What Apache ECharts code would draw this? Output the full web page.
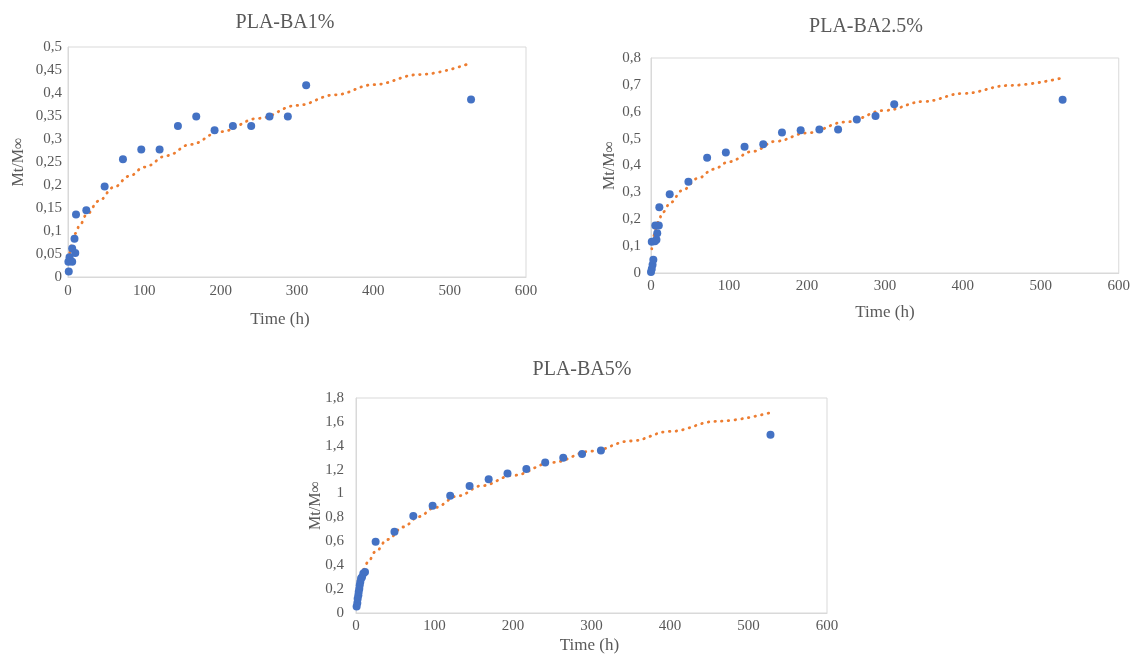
<!DOCTYPE html>
<html>
<head>
<meta charset="utf-8">
<script src="https://cdn.jsdelivr.net/npm/echarts@6/dist/echarts.min.js"></script>
<style>
html,body{margin:0;padding:0;background:#fff;}
#c{width:1133px;height:663px;}
</style>
</head>
<body>
<div id="c"></div>
<script>
// ---- Data ----
const titles = ['PLA-BA1%', 'PLA-BA2.5%', 'PLA-BA5%'];
const xName = 'Time (h)';
const yName = 'Mt/M\u221E';

// PLA-BA1%
const time1 = [1, 0.5, 2, 5.5, 5.5, 9.5, 8.5, 10.5, 24, 48, 72, 96, 120, 144, 168, 192, 216, 240, 264, 288, 312, 528];
const val1  = [0.012, 0.033, 0.043, 0.062, 0.033, 0.052, 0.083, 0.136, 0.145, 0.197, 0.256, 0.277, 0.277, 0.328, 0.349, 0.319, 0.328, 0.328, 0.349, 0.349, 0.417, 0.386];
const trendT1 = [1, 2, 3, 5, 7, 10, 15, 25, 40, 60, 80, 100, 130, 160, 200, 250, 300, 350, 400, 460, 522];
const trendV1 = [0.038, 0.05, 0.059, 0.072, 0.082, 0.095, 0.112, 0.137, 0.165, 0.195, 0.219, 0.239, 0.264, 0.288, 0.316, 0.345, 0.373, 0.396, 0.418, 0.44, 0.462];

// PLA-BA2.5%
const time2 = [0, 1, 2, 3, 1, 5, 7, 8, 5.5, 10, 10.7, 24, 48, 72, 96, 120, 144, 168, 192, 216, 240, 264, 288, 312, 528];
const val2  = [0.004, 0.015, 0.031, 0.049, 0.116, 0.118, 0.124, 0.148, 0.177, 0.177, 0.245, 0.293, 0.340, 0.429, 0.448, 0.470, 0.479, 0.523, 0.531, 0.534, 0.534, 0.571, 0.584, 0.628, 0.645];
const trendT2 = [1, 2, 3, 5, 7, 10, 15, 25, 40, 60, 80, 100, 130, 160, 200, 250, 300, 350, 400, 460, 528];
const trendV2 = [0.09, 0.113, 0.13, 0.155, 0.172, 0.198, 0.226, 0.262, 0.307, 0.352, 0.386, 0.414, 0.452, 0.49, 0.521, 0.562, 0.605, 0.638, 0.668, 0.698, 0.726];

// PLA-BA5%
const time3 = [0.8, 1.7, 2.1, 3, 3.4, 4.2, 4.7, 5.5, 6.4, 7.6, 9.3, 11.5, 25, 49, 73, 97.6, 120, 144.7, 169, 193, 217, 241, 264, 288, 312, 528];
const val3  = [0.055, 0.084, 0.12, 0.148, 0.176, 0.204, 0.232, 0.26, 0.288, 0.30, 0.33, 0.344, 0.596, 0.680, 0.812, 0.898, 0.982, 1.064, 1.119, 1.167, 1.206, 1.259, 1.299, 1.332, 1.36, 1.492];
const trendT3 = [1, 2, 3, 5, 7, 10, 15, 25, 40, 60, 80, 100, 130, 160, 200, 250, 300, 350, 400, 460, 526];
const trendV3 = [0.15, 0.195, 0.23, 0.277, 0.315, 0.365, 0.425, 0.515, 0.615, 0.72, 0.807, 0.882, 0.98, 1.065, 1.152, 1.26, 1.355, 1.44, 1.52, 1.605, 1.674];

const yMax = [0.5, 0.8, 1.8];
const yStep = [0.05, 0.1, 0.2];
const xMax = 600, xStep = 100;

// ---- Layout ----
const grids = [
  {left: 68, top: 47, width: 458, height: 230},
  {left: 651, top: 58, width: 468, height: 215},
  {left: 356, top: 398, width: 471, height: 215}
];
const titlePos = [{x: 280, y: 8}, {x: 861, y: 12}, {x: 577, y: 355}];
const xNamePad = [[0, 34, 0, 0], [0, 0, 0, 0], [0, 4, 0, 0]];
const xNameGap = [34, 31, 24];
const xLabelMargin = [7, 6, 6];
const yNameGap = [41, 33, 32];
const yLabelMargin = [6, 10, 12];

const FONT = 'Liberation Serif';
const GREY = '#595959';
const fmt = v => (+v.toFixed(2)).toString().replace('.', ',');
const pairs = (a, b) => a.map((t, i) => [t, b[i]]);

const times = [time1, time2, time3];
const vals = [val1, val2, val3];
const tT = [trendT1, trendT2, trendT3];
const tV = [trendV1, trendV2, trendV3];

const option = {
  backgroundColor: '#fff',
  animation: false,
  title: titles.map((t, i) => ({
    text: t, left: titlePos[i].x, top: titlePos[i].y, textAlign: 'center',
    textStyle: {fontFamily: FONT, fontSize: 20, fontWeight: 'normal', color: GREY}
  })),
  grid: grids.map(g => Object.assign({show: true, borderColor: '#d9d9d9', borderWidth: 1, containLabel: false}, g)),
  xAxis: grids.map((g, i) => ({
    type: 'value', gridIndex: i, min: 0, max: xMax, interval: xStep,
    name: xName, nameLocation: 'middle', nameGap: xNameGap[i], nameMoveOverlap: false,
    nameTextStyle: {fontFamily: FONT, fontSize: 17, color: GREY, padding: xNamePad[i]},
    axisLine: {show: true, lineStyle: {color: '#d9d9d9'}},
    axisTick: {show: false},
    splitLine: {show: false},
    axisLabel: {fontFamily: FONT, fontSize: 15, color: GREY, margin: xLabelMargin[i]}
  })),
  yAxis: grids.map((g, i) => ({
    type: 'value', gridIndex: i, min: 0, max: yMax[i], interval: yStep[i],
    name: yName, nameLocation: 'middle', nameGap: yNameGap[i], nameMoveOverlap: false,
    nameTextStyle: {fontFamily: FONT, fontSize: 16, color: GREY},
    axisLine: {show: true, lineStyle: {color: '#d9d9d9'}},
    axisTick: {show: false},
    splitLine: {show: false},
    axisLabel: {fontFamily: FONT, fontSize: 15, color: GREY, margin: yLabelMargin[i], formatter: fmt}
  })),
  series: []
};

for (let i = 0; i < 3; i++) {
  option.series.push({
    type: 'line', xAxisIndex: i, yAxisIndex: i, z: 2,
    data: pairs(tT[i], tV[i]), showSymbol: false, symbol: 'none',
    smooth: 0.4, smoothMonotone: 'x',
    lineStyle: {color: '#ED7D31', width: 2.8, type: [0.5, 6.2], cap: 'round'}
  });
  option.series.push({
    type: 'scatter', xAxisIndex: i, yAxisIndex: i, z: 3,
    data: pairs(times[i], vals[i]), symbol: 'circle', symbolSize: 8,
    itemStyle: {color: '#4472C4', opacity: 1}
  });
}

const chart = echarts.init(document.getElementById('c'), null, {renderer: 'canvas'});
chart.setOption(option);
</script>
</body>
</html>
